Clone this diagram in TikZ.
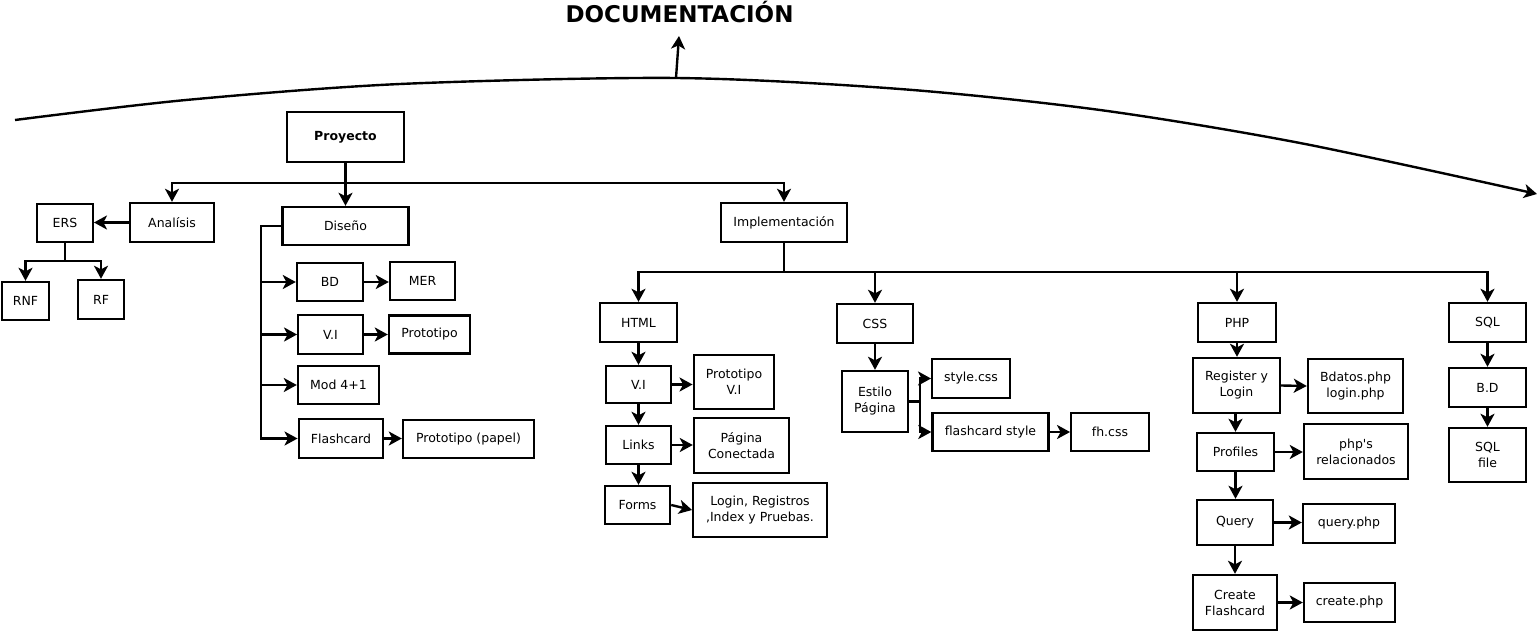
\documentclass[tikz,border=0pt]{standalone}
\usepackage{fontspec}
\setmainfont{DejaVu Sans}
\usetikzlibrary{arrows.meta}
\begin{document}
\begin{tikzpicture}[x=1pt,y=-1pt,
  box/.style={draw, line width=2.4pt, inner sep=0pt, align=center, font=\fontsize{12.5}{16}\selectfont},
  arr/.style={line width=2.4pt, -{Stealth[length=13pt,width=14pt,inset=3.5pt]}},
  ln/.style={line width=2.4pt}]
\useasboundingbox (0,0) rectangle (1539,631);

% title and curve
\node[font=\fontsize{23}{28}\selectfont\bfseries, anchor=base, inner sep=0pt] (title) at (679.5,22.7) {DOCUMENTACIÓN};
\coordinate (cpt) at (676,78);
\coordinate (ctip) at (679,36);
\draw[arr] plot[smooth] coordinates {(15,120) (186,100) (400,84) (676,78) (900,89) (1100,110) (1300,143) (1537,194)};
\draw[arr] (cpt) -- (ctip);

% left part
\node[box, minimum width=117pt, minimum height=50pt] (proy) at (345.5,137) {\textbf{Proyecto}};
\node[box, minimum width=84pt, minimum height=39pt] (anal) at (172,222.5) {Analísis};
\node[box, minimum width=126pt, minimum height=38pt] (dis) at (345.5,226) {Diseño};
\node[box, minimum width=55.5pt, minimum height=38pt] (ers) at (65,223) {ERS};
\node[box, minimum width=47pt, minimum height=38pt] (rnf) at (25.5,301) {RNF};
\node[box, minimum width=46pt, minimum height=39pt] (rf) at (101,299.5) {RF};
\node[box, minimum width=66pt, minimum height=38pt] (bd) at (330,282) {BD};
\node[box, minimum width=65pt, minimum height=38pt] (mer) at (422.5,281) {MER};
\node[box, minimum width=64.5pt, minimum height=39pt] (vid) at (330.5,334.5) {V.I};
\node[box, minimum width=81pt, minimum height=38pt] (proto) at (429.5,334.5) {Prototipo};
\node[box, minimum width=81pt, minimum height=38pt] (mod) at (338.5,385) {Mod 4+1};
\node[box, minimum width=84.5pt, minimum height=39pt] (flash) at (341,438.5) {Flashcard};
\node[box, minimum width=131pt, minimum height=38pt] (papel) at (468.5,439) {Prototipo (papel)};

% implementation
\node[box, minimum width=126pt, minimum height=39pt] (impl) at (784,222.5) {Implementación};
\node[box, minimum width=77pt, minimum height=39pt] (html) at (638.5,322.5) {HTML};
\node[box, minimum width=76pt, minimum height=39pt] (css) at (875,323.5) {CSS};
\node[box, minimum width=65pt, minimum height=37pt] (vih) at (638.5,384.5) {V.I};
\node[box, minimum width=80.5pt, minimum height=54pt] (protovi) at (734,382) {Prototipo\\V.I};
\node[box, minimum width=65pt, minimum height=38pt] (links) at (638.5,445) {Links};
\node[box, minimum width=95pt, minimum height=55pt] (pag) at (741.5,445.5) {Página\\Conectada};
\node[box, minimum width=65pt, minimum height=38pt] (forms) at (637.5,505) {Forms};
\node[box, minimum width=133.5pt, minimum height=54pt] (login) at (760,510) {Login, Registros\\,Index y Pruebas.};
\node[box, minimum width=66pt, minimum height=61pt] (estilo) at (875,401.5) {Estilo\\Página};
\node[box, minimum width=77.5pt, minimum height=39pt] (stylecss) at (971,378.5) {style.css};
\node[box, minimum width=116pt, minimum height=38pt] (fstyle) at (990.5,432) {flashcard style};
\node[box, minimum width=77.5pt, minimum height=38pt] (fhcss) at (1110,432) {fh.css};
\node[box, minimum width=78pt, minimum height=39pt] (php) at (1237,322.5) {PHP};
\node[box, minimum width=87pt, minimum height=55pt] (reg) at (1236.5,385.5) {Register y\\Login};
\node[box, minimum width=95pt, minimum height=54pt] (bdatos) at (1355.5,386) {Bdatos.php\\login.php};
\node[box, minimum width=77pt, minimum height=38pt] (prof) at (1235.5,452) {Profiles};
\node[box, minimum width=104pt, minimum height=55pt] (phps) at (1356,451.5) {php\textquotesingle s\\relacionados};
\node[box, minimum width=76pt, minimum height=45pt] (query) at (1235,522.5) {Query};
\node[box, minimum width=92pt, minimum height=39pt] (queryphp) at (1349,523.5) {query.php};
\node[box, minimum width=84pt, minimum height=55pt] (create) at (1235,602.5) {Create\\Flashcard};
\node[box, minimum width=91pt, minimum height=39pt] (createphp) at (1349.5,602.5) {create.php};
\node[box, minimum width=77pt, minimum height=39pt] (sql) at (1487.5,322.5) {SQL};
\node[box, minimum width=77pt, minimum height=39pt] (bdd) at (1487.5,387.5) {B.D};
\node[box, minimum width=77pt, minimum height=54pt] (sqlfile) at (1487.5,455) {SQL\\file};

% connectors: project level
\coordinate (pbar) at (345.5,183);
\draw[ln] (proy.south) -- (pbar);
\draw[arr] (pbar) -| (anal.north);
\draw[arr] (pbar) -- (dis.north);
\draw[arr] (pbar) -| (impl.north);

% analysis
\draw[arr] (anal.west) -- (anal.west -| ers.east);
\coordinate (ersb) at (65,261);
\draw[ln] (ers.south) -- (ersb);
\draw[arr] (ersb) -| (rnf.north);
\draw[arr] (ersb) -| (rf.north);

% design
\coordinate (dt) at (261,226);
\draw[arr] (dis.west) -- (dt) |- (bd.west);
\draw[arr] (dt) |- (vid.west);
\draw[arr] (dt) |- (mod.west);
\draw[arr] (dt) |- (flash.west);
\draw[arr] (bd.east) -- (bd.east -| mer.west);
\draw[arr] (vid.east) -- (vid.east -| proto.west);
\draw[arr] (flash.east) -- (flash.east -| papel.west);

% implementation
\coordinate (ibar) at (784,272);
\draw[ln] (impl.south) -- (ibar);
\draw[arr] (ibar) -| (html.north);
\draw[arr] (ibar) -| (css.north);
\draw[arr] (ibar) -| (php.north);
\draw[arr] (ibar) -| (sql.north);

% html
\draw[arr] (html.south) -- (vih.north);
\draw[arr] (vih.south) -- (links.north);
\draw[arr] (links.south) -- (links.south |- forms.north);
\draw[arr] (vih.east) -- (vih.east -| protovi.west);
\draw[arr] (links.east) -- (links.east -| pag.west);
\draw[arr] (forms.east) -- (login.west);

% css
\draw[arr] (css.south) -- (estilo.north);
\coordinate (eb) at (920,401.5);
\draw[ln] (estilo.east) -- (eb);
\draw[arr] (eb) |- (stylecss.west);
\draw[arr] (eb) |- (fstyle.west);
\draw[arr] (fstyle.east) -- (fhcss.west);

% php
\draw[arr] (php.south) -- (php.south |- reg.north);
\draw[arr] (reg.east) -- (bdatos.west);
\draw[arr] (prof.north |- reg.south) -- (prof.north);
\draw[arr] (prof.east) -- (prof.east -| phps.west);
\draw[arr] (prof.south) -- (prof.south |- query.north);
\draw[arr] (query.east) -- (query.east -| queryphp.west);
\draw[arr] (query.south) -- (create.north);
\draw[arr] (create.east) -- (create.east -| createphp.west);

% sql
\draw[arr] (sql.south) -- (bdd.north);
\draw[arr] (bdd.south) -- (sqlfile.north);
\end{tikzpicture}
\end{document}
